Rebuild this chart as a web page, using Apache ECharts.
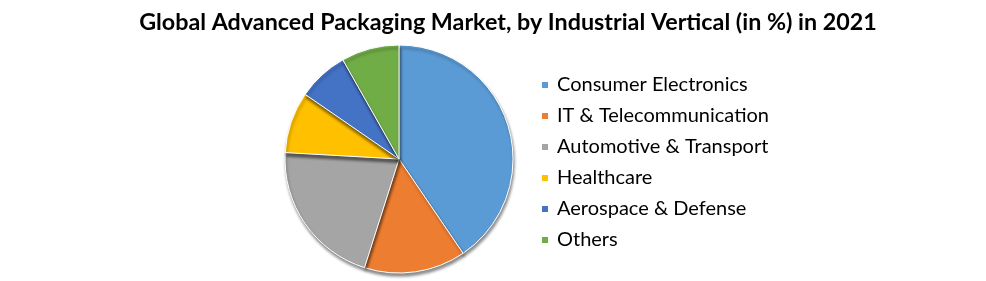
<!DOCTYPE html>
<html><head><meta charset="utf-8">
<script src="https://cdn.jsdelivr.net/npm/echarts@6/dist/echarts.min.js"></script>
<style>html,body{margin:0;padding:0;background:#fff}#c{width:986px;height:281px}</style>
</head><body><div id="c"></div>
<script>
const titleText = 'Global Advanced Packaging Market, by Industrial Vertical (in %) in 2021';
const categories = ['Consumer Electronics','IT & Telecommunication','Automotive & Transport','Healthcare','Aerospace & Defense','Others'];
const values = [40.5, 14.4, 21.0, 8.7, 7.2, 8.2];
const colors = ['#5B9BD5','#ED7D31','#A5A5A5','#FFC000','#4472C4','#70AD47'];

const chart = echarts.init(document.getElementById('c'), null, {renderer:'canvas'});
chart.setOption({
  animation:false,
  backgroundColor:'#fff',
  color: colors,
  title:{text:titleText,left:503,top:6,textAlign:'center',
    textStyle:{fontFamily:'Lato',fontWeight:'bold',fontSize:23.3,color:'#000'}},
  legend:{orient:'vertical',left:535,top:70,itemWidth:8,itemHeight:8,itemGap:11,icon:'rect',
    data:categories,
    textStyle:{fontFamily:'Lato',fontSize:20,color:'#000',padding:[0,0,0,3]}},
  series:[{type:'pie',center:[399,159],radius:114,startAngle:90,clockwise:true,
    label:{show:false},labelLine:{show:false},
    itemStyle:{borderColor:'#fff',borderWidth:1,shadowBlur:3,shadowOffsetX:1,shadowOffsetY:3,shadowColor:'rgba(0,0,0,0.45)'},
    emphasis:{disabled:true},
    data:categories.map((c,i)=>({name:c,value:values[i]}))}]
});
</script></body></html>
